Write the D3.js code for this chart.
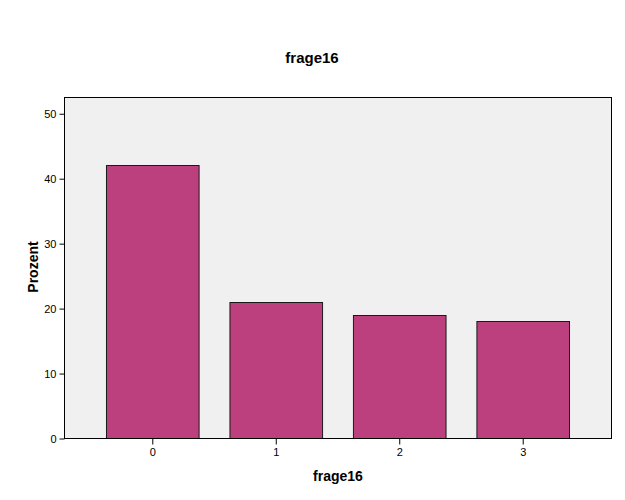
<!DOCTYPE html>
<html>
<head>
<meta charset="utf-8">
<script src="https://cdn.jsdelivr.net/npm/d3@7"></script>
<style>
  body { margin: 0; background: #fff; }
  svg { display: block; font-family: "Liberation Sans", Arial, sans-serif; }
</style>
</head>
<body>
<svg id="chart" width="625" height="500"></svg>
<script>
const categories = ["0", "1", "2", "3"];
const values = [42, 21, 19, 18];
const yTicks = [0, 10, 20, 30, 40, 50];
const title = "frage16";
const xTitle = "frage16";
const yTitle = "Prozent";

const svg = d3.select("#chart");
const pLeft = 64, pRight = 611, pTop = 97, pBottom = 438;

const x = d3.scaleBand().domain(categories).range([pLeft, pRight])
  .paddingInner(0.25).paddingOuter(0.34);
const y = d3.scaleLinear().domain([0, 52.5]).range([pBottom, pTop]);

svg.append("rect").attr("x", pLeft).attr("y", pTop)
  .attr("width", pRight - pLeft).attr("height", pBottom - pTop)
  .attr("fill", "#f0f0f0");

svg.selectAll("rect.bar").data(values).enter().append("rect")
  .attr("class", "bar")
  .attr("x", (d, i) => x(categories[i]) + 0.5)
  .attr("y", d => Math.round(y(d)) + 0.5)
  .attr("width", x.bandwidth())
  .attr("height", d => pBottom - Math.round(y(d)))
  .attr("fill", "#bc3f7e")
  .attr("stroke", "#1a1a1a")
  .attr("stroke-width", 1);

svg.append("rect").attr("x", pLeft + 0.5).attr("y", pTop + 0.5)
  .attr("width", pRight - pLeft).attr("height", pBottom - pTop)
  .attr("fill", "none").attr("stroke", "#000").attr("stroke-width", 1);

const yAxis = d3.axisLeft(y).tickValues(yTicks).tickSize(5).tickPadding(3);
const gy = svg.append("g").attr("transform", `translate(${pLeft + 0.5},0.5)`).call(yAxis);
gy.select(".domain").remove();
gy.selectAll("text").attr("font-size", 11).attr("fill", "#000");

const xAxis = d3.axisBottom(x).tickSize(6).tickPadding(4);
const gx = svg.append("g").attr("transform", `translate(0.5,${pBottom + 0.5})`).call(xAxis);
gx.select(".domain").remove();
gx.selectAll("text").attr("font-size", 11).attr("fill", "#000");

svg.append("text").attr("x", 312).attr("y", 63).attr("text-anchor", "middle")
  .attr("font-size", 15).attr("font-weight", "bold").text(title);
svg.append("text").attr("x", 338).attr("y", 481).attr("text-anchor", "middle")
  .attr("font-size", 14).attr("font-weight", "bold").text(xTitle);
svg.append("text").attr("transform", "translate(38,267) rotate(-90)")
  .attr("text-anchor", "middle")
  .attr("font-size", 14).attr("font-weight", "bold").text(yTitle);
</script>
</body>
</html>
